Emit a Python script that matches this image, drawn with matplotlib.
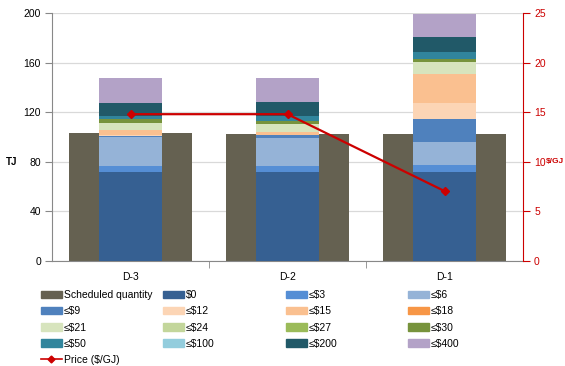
import numpy as np
import matplotlib
matplotlib.use("Agg")
import matplotlib.pyplot as plt
from matplotlib.patches import Patch
from matplotlib.lines import Line2D

plt.rcParams['font.family'] = ['Liberation Sans', 'DejaVu Sans']

# Data
days = ["D-3", "D-2", "D-1"]
scheduled = [103.2, 102.4, 102.4]
price = [14.8, 14.8, 7.05]

bands = ["$0", "≤$3", "≤$6", "≤$9", "≤$12", "≤$15", "≤$18", "≤$21",
         "≤$24", "≤$27", "≤$30", "≤$50", "≤$100", "≤$200", "≤$400"]
band_d3 = [72, 4.6, 23.7, 0.8, 0.3, 4.2, 0, 5.4, 0, 0, 3.3, 2.6, 0, 10.5, 20.2]
band_d2 = [72, 4.6, 22.6, 2.2, 0.2, 2.4, 0, 6.5, 0, 0, 2.4, 4.0, 0, 11.3, 19.4]
band_d1 = [72, 5.4, 18.8, 18.6, 12.9, 23.4, 0, 9.1, 0, 0, 2.7, 5.9, 0, 11.8, 18.6]

band_colors = ["#366092", "#558ed5", "#95b3d7", "#4f81bd", "#fcd5b5",
               "#fac090", "#f79646", "#d7e4bd", "#c3d69b", "#9bbb59",
               "#77933c", "#31859c", "#93cddd", "#215968", "#b3a2c7"]
sched_color = "#656151"
red = "#cc0000"

fig = plt.figure(figsize=(5.65, 3.66), dpi=100)
ax = fig.add_axes([52/565, 1-261/366, 471/565, 248/366])
ax2 = ax.twinx()

x = np.arange(len(days))
ax.bar(x, scheduled, width=0.78, color=sched_color, zorder=2)

stack = np.array([band_d3, band_d2, band_d1]).T
bottom = np.zeros(len(days))
for name, vals, c in zip(bands, stack, band_colors):
    ax.bar(x, vals, width=0.40, bottom=bottom, color=c, zorder=3)
    bottom += vals

ax2.plot(x, price, color=red, lw=1.6, marker="D", ms=4.5, zorder=5)

# left axis
ax.set_xlim(-0.5, 2.5)
ax.set_ylim(0, 200)
ax.set_yticks(np.arange(0, 201, 40))
ax.yaxis.grid(True, color="#d9d9d9", lw=0.9, zorder=0)
ax.set_axisbelow(True)
ax.set_xticks(x)
ax.set_xticklabels(days)
ax.set_xticks([0.5, 1.5], minor=True)
ax.tick_params(axis="x", which="major", length=0, pad=8, labelsize=7.5)
ax.tick_params(axis="x", which="minor", length=5, color="#888888", direction="out")
ax.tick_params(axis="y", length=5, color="#888888", labelsize=7.5, pad=3)
for s in ["top", "right"]:
    ax.spines[s].set_visible(False)
ax.spines["left"].set_color("#888888")
ax.spines["bottom"].set_color("#888888")
ax.set_ylabel("TJ", rotation=0, fontsize=7, fontweight="bold", va="center", ha="center")
ax.yaxis.set_label_coords(-0.085, 0.40)

# right axis
ax2.set_ylim(0, 25)
ax2.set_yticks(np.arange(0, 26, 5))
ax2.tick_params(axis="y", length=5, color=red, labelcolor=red, labelsize=7.5, pad=3)
for s in ["top", "left", "bottom"]:
    ax2.spines[s].set_visible(False)
ax2.spines["right"].set_color(red)
ax2.set_ylabel("$/GJ", rotation=0, fontsize=6, fontweight="bold", color=red,
               va="center", ha="center")
ax2.yaxis.set_label_coords(1.068, 0.40)

# legend, built column by column so rows read left to right
handles = [Patch(color=sched_color, label="Scheduled quantity")]
handles += [Patch(color=c, label=n) for n, c in zip(bands, band_colors)]
handles.append(Line2D([], [], color=red, lw=1.2, marker="D", ms=3.5, label="Price ($/GJ)"))

col_x = [41, 163, 286, 408]
for i, cx in enumerate(col_x):
    col = handles[i::4]
    fig.legend(handles=col, loc="upper left",
               bbox_to_anchor=(cx/565, 1-290/366), frameon=False,
               fontsize=7.5, borderpad=0, borderaxespad=0,
               handlelength=2.0, handleheight=0.7, handletextpad=0.2,
               labelspacing=0.6)

fig.savefig("out.png", dpi=100)
